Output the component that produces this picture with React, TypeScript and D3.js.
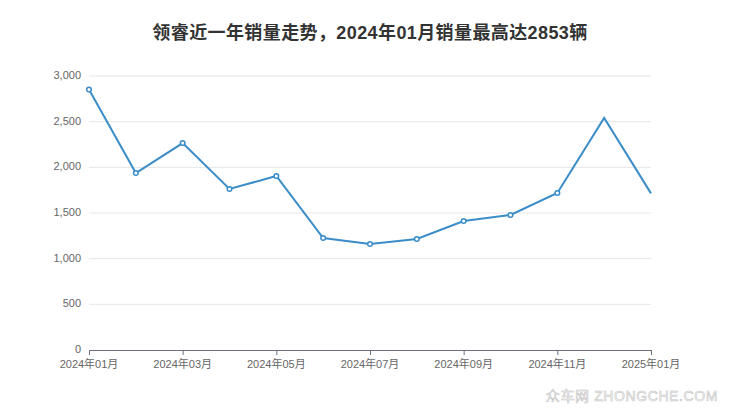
import React from "react";
import * as d3 from "d3";

const months = ["2024年01月","2024年02月","2024年03月","2024年04月","2024年05月","2024年06月","2024年07月","2024年08月","2024年09月","2024年10月","2024年11月","2024年12月","2025年01月"];
const sales = [2853, 1938, 2266, 1763, 1905, 1226, 1161, 1215, 1412, 1478, 1719, 2540, 1715];
const yTicks = [0, 500, 1000, 1500, 2000, 2500, 3000];
const title = "领睿近一年销量走势，2024年01月销量最高达2853辆";

export default function App() {
  const W = 740, H = 417;
  const left = 89, right = 651, top = 76, bottom = 350;
  const x = d3.scalePoint<string>().domain(months).range([left, right]);
  const y = d3.scaleLinear().domain([0, 3000]).range([bottom, top]);
  const line = d3.line<number>().x((_, i) => x(months[i])!).y(d => y(d));
  const font = "'Noto Sans CJK SC', 'Liberation Sans', sans-serif";
  const latin = "'Liberation Sans', 'Noto Sans CJK SC', sans-serif";
  return (
    <svg width={W} height={H} style={{ position: "absolute", left: 0, top: 0, background: "#fff" }} fontFamily={font}>
      <text x={370} y={39} textAnchor="middle" fontSize={18} fontWeight="bold" fill="#333" letterSpacing={0.4} fontFamily={latin}>{title}</text>
      {yTicks.map(t => (
        <g key={t}>
          {t > 0 && <line x1={left} x2={right} y1={y(t)} y2={y(t)} stroke="#e6e6e6" strokeWidth={1} />}
          <text x={81} y={y(t) + 3} textAnchor="end" fontSize={11} fill="#666" fontFamily={latin}>{d3.format(",")(t)}</text>
        </g>
      ))}
      <line x1={left} x2={right} y1={bottom + 0.5} y2={bottom + 0.5} stroke="#6e7079" strokeWidth={1} />
      {months.map((m, i) => i % 2 === 0 && (
        <g key={m}>
          <line x1={x(m)! + 0.5} x2={x(m)! + 0.5} y1={bottom} y2={bottom + 5} stroke="#6e7079" />
          <text x={x(m)} y={bottom + 18} textAnchor="middle" fontSize={11} fill="#666" fontFamily={latin}>{m}</text>
        </g>
      ))}
      <path d={line(sales) || ""} fill="none" stroke="#3a8dc8" strokeWidth={2} />
      {sales.map((v, i) => i < 11 && (
        <circle key={i} cx={x(months[i])} cy={y(v)} r={2.3} fill="#fff" stroke="#3a8dc8" strokeWidth={1.5} />
      ))}
      <text x={718} y={401} textAnchor="end" fontSize={14} fill="#fff" stroke="#c4c4c4" strokeWidth={0.6} letterSpacing={0.6} fontFamily={latin}>众车网 ZHONGCHE.COM</text>
    </svg>
  );
}
